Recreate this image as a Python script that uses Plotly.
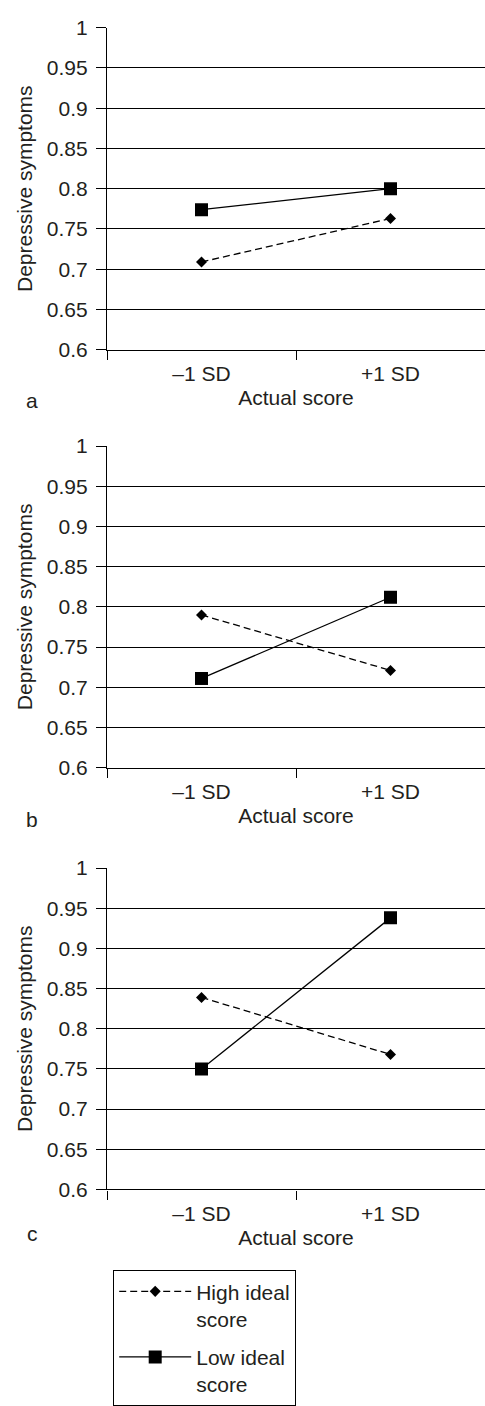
import plotly.graph_objects as go

# ---- data ----
categories = ["–1 SD", "+1 SD"]
high_ideal_a = [0.709, 0.763]
low_ideal_a = [0.774, 0.800]
high_ideal_b = [0.790, 0.721]
low_ideal_b = [0.711, 0.812]
high_ideal_c = [0.839, 0.768]
low_ideal_c = [0.750, 0.938]
y_tickvals = [0.6, 0.65, 0.7, 0.75, 0.8, 0.85, 0.9, 0.95, 1.0]
y_ticktext = ["0.6", "0.65", "0.7", "0.75", "0.8", "0.85", "0.9", "0.95", "1"]
panel_labels = ["a", "b", "c"]
series_names = ["High ideal<br>score", "Low ideal<br>score"]

W, H = 485, 1406
FONT = "Liberation Sans, Arial, sans-serif"
TXT = "#231f20"
FS = 21

def py(px):
    return 1 - px / H

panels = [
    (high_ideal_a, low_ideal_a, (16, 343.3), 395),
    (high_ideal_b, low_ideal_b, (441.3, 768.3), 821),
    (high_ideal_c, low_ideal_c, (870.3, 1197), 1242),
]

fig = go.Figure()
layout = {}
annotations = []
for i, (hi, lo, (top, bot), lab_y) in enumerate(panels):
    n = "" if i == 0 else str(i + 1)
    xa, ya = "x" + n, "y" + n
    fig.add_trace(go.Scatter(
        x=categories, y=hi, xaxis=xa, yaxis=ya, mode="lines+markers",
        name=series_names[0], showlegend=(i == 0), legendgroup="hi",
        line=dict(color="black", width=1.3, dash="7px,4px"),
        marker=dict(symbol="diamond", size=8.5, color="black"),
    ))
    fig.add_trace(go.Scatter(
        x=categories, y=lo, xaxis=xa, yaxis=ya, mode="lines+markers",
        name=series_names[1], showlegend=(i == 0), legendgroup="lo",
        line=dict(color="black", width=1.3),
        marker=dict(symbol="square", size=13, color="black"),
    ))
    layout["xaxis" + n] = dict(
        domain=[107 / W, 1.0], anchor=ya, type="category",
        tickson="boundaries", ticks="outside", ticklen=9, tickcolor="black",
        showline=True, linecolor="black", linewidth=1.2, showgrid=False,
        tickfont=dict(size=FS, color=TXT, family=FONT), ticklabelstandoff=5,
        title=dict(text="Actual score", font=dict(size=FS, color=TXT, family=FONT), standoff=6),
        range=[-0.5, 1.5], fixedrange=True,
    )
    layout["yaxis" + n] = dict(
        domain=[py(bot), py(top)], anchor=xa, range=[0.6, 1.0],
        tickvals=y_tickvals, ticktext=y_ticktext,
        ticks="outside", ticklen=10, tickcolor="black",
        showline=True, linecolor="black", linewidth=1.2,
        showgrid=True, gridcolor="black", gridwidth=1.2, zeroline=False,
        tickfont=dict(size=FS, color=TXT, family=FONT), ticklabelstandoff=4,
        title=dict(text="Depressive symptoms", font=dict(size=FS, color=TXT, family=FONT), standoff=8),
        fixedrange=True,
    )
    annotations.append(dict(
        text=panel_labels[i], x=32 / W, y=py(lab_y), xref="paper", yref="paper",
        showarrow=False, xanchor="center", yanchor="middle",
        font=dict(size=FS, color=TXT, family=FONT),
    ))

fig.update_layout(
    **layout,
    width=W, height=H,
    margin=dict(l=0, r=0, t=0, b=0),
    paper_bgcolor="white", plot_bgcolor="white",
    font=dict(family=FONT, size=FS, color=TXT),
    annotations=annotations,
    showlegend=True,
    legend=dict(
        x=113 / W, y=py(1279), xanchor="left", yanchor="top",
        bordercolor="black", borderwidth=1.2, bgcolor="white",
        font=dict(size=FS, color=TXT, family=FONT),
        itemwidth=72, tracegroupgap=8, valign="top",
    ),
)

fig.write_html(
    "out.html",
    config={"displayModeBar": False},
    post_script="document.body.style.margin='0';document.body.style.overflow='hidden';",
)
